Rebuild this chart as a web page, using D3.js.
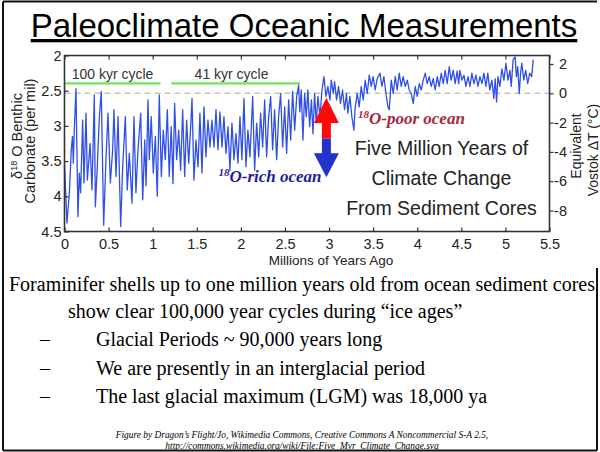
<!doctype html>
<html>
  <head>
    <meta charset="UTF-8">
    <title>Paleoclimate Oceanic Measurements</title>
    <script src="https://d3js.org/d3.v7.min.js"></script>
    <style>
      body { margin: 0; background: #fff; }
      .sans { font-family: "Liberation Sans", Arial, sans-serif; }
      .serif { font-family: "Liberation Serif", "Times New Roman", serif; }
      .tick text { font-family: "Liberation Sans", Arial, sans-serif; font-size: 14.5px; fill: #222; }
      .tick line { stroke: #333; stroke-width: 1.2; }
    </style>
  </head>
  <body>
    <svg id="slide" width="600" height="452"></svg>
    <script>
      // Benthic d18O record: age in Myr and value in per mil
      const ageMyr = [
        0.000, 0.028, 0.055, 0.077, 0.090, 0.100, 0.110, 0.130, 0.153, 0.168,
        0.183, 0.206, 0.221, 0.244, 0.259, 0.290, 0.312, 0.338, 0.350, 0.372,
        0.395, 0.417, 0.444, 0.470, 0.493, 0.520, 0.546, 0.561, 0.584, 0.607,
        0.637, 0.660, 0.690, 0.712, 0.735, 0.765, 0.788, 0.810, 0.833, 0.864,
        0.887, 0.910, 0.925, 0.947, 0.962, 0.984, 1.007, 1.030, 1.052, 1.075,
        1.098, 1.120, 1.143, 1.166, 1.188, 1.210, 1.230, 1.249, 1.272, 1.295,
        1.317, 1.340, 1.363, 1.385, 1.408, 1.431, 1.446, 1.468, 1.491, 1.514,
        1.536, 1.559, 1.582, 1.604, 1.627, 1.650, 1.672, 1.695, 1.718, 1.740,
        1.763, 1.786, 1.808, 1.831, 1.854, 1.876, 1.899, 1.922, 1.944, 1.967,
        1.990, 2.012, 2.035, 2.058, 2.080, 2.103, 2.134, 2.156, 2.179, 2.202,
        2.224, 2.247, 2.270, 2.292, 2.315, 2.338, 2.360, 2.383, 2.406, 2.428,
        2.451, 2.474, 2.497, 2.519, 2.542, 2.565, 2.587, 2.610, 2.633, 2.655,
        2.668, 2.685, 2.704, 2.723, 2.742, 2.760, 2.780, 2.800, 2.818, 2.836,
        2.855, 2.874, 2.897, 2.920, 2.942, 2.965, 2.987, 3.010, 3.025, 3.048,
        3.063, 3.085, 3.108, 3.130, 3.153, 3.176, 3.198, 3.213, 3.236, 3.259,
        3.282, 3.297, 3.320, 3.342, 3.365, 3.388, 3.410, 3.433, 3.456, 3.478,
        3.500, 3.523, 3.546, 3.577, 3.600, 3.622, 3.645, 3.668, 3.683, 3.705,
        3.728, 3.751, 3.773, 3.796, 3.819, 3.841, 3.864, 3.887, 3.909, 3.932,
        3.955, 3.977, 4.000, 4.023, 4.045, 4.068, 4.091, 4.113, 4.136, 4.159,
        4.181, 4.204, 4.227, 4.249, 4.272, 4.295, 4.317, 4.340, 4.363, 4.385,
        4.408, 4.430, 4.453, 4.470, 4.484, 4.507, 4.530, 4.552, 4.575, 4.598,
        4.620, 4.643, 4.666, 4.689, 4.711, 4.734, 4.756, 4.779, 4.800, 4.823,
        4.846, 4.869, 4.884, 4.900, 4.915, 4.937, 4.960, 4.983, 5.006, 5.029,
        5.051, 5.066, 5.087, 5.110, 5.125, 5.140, 5.157, 5.172, 5.186, 5.208,
        5.230, 5.253, 5.275, 5.298, 5.315
      ];
      const d18O = [
        3.55, 4.38, 3.95, 3.34, 3.15, 3.53, 3.10, 2.47, 4.29, 3.67,
        3.95, 2.92, 3.81, 2.82, 3.77, 3.25, 3.91, 2.56, 4.15, 3.58,
        2.87, 2.51, 4.41, 3.48, 2.82, 3.81, 3.34, 2.77, 3.72, 2.87,
        4.43, 3.58, 2.87, 3.91, 3.39, 4.10, 2.87, 3.95, 3.34, 2.82,
        4.05, 3.20, 3.85, 2.63, 3.48, 2.87, 3.67, 3.15, 4.00, 2.56,
        3.72, 3.06, 3.48, 2.77, 3.72, 3.01, 3.82, 2.68, 3.48, 3.06,
        3.63, 2.77, 3.72, 2.92, 3.53, 3.01, 2.61, 3.77, 3.20, 3.58,
        2.82, 3.67, 2.73, 3.44, 2.92, 3.30, 2.92, 3.30, 2.77, 3.34,
        2.80, 3.30, 2.87, 3.39, 3.01, 3.63, 2.96, 3.48, 3.11, 3.53,
        2.87, 3.48, 2.61, 3.58, 3.06, 3.44, 2.58, 3.63, 2.96, 3.44,
        2.82, 3.30, 2.63, 3.44, 2.87, 2.58, 3.34, 2.77, 3.48, 2.87,
        2.54, 3.30, 2.73, 3.39, 2.63, 3.20, 2.51, 3.06, 2.58, 2.42,
        2.80, 2.49, 3.20, 2.54, 2.87, 2.49, 3.01, 2.63, 3.11, 2.54,
        2.96, 2.58, 2.87, 2.49, 2.30, 2.58, 2.44, 2.63, 2.35, 2.54,
        2.37, 2.63, 2.44, 2.68, 2.49, 2.77, 2.54, 2.82, 2.58, 2.87,
        3.06, 2.73, 2.54, 2.73, 2.44, 2.63, 2.35, 2.54, 2.28, 2.44,
        2.30, 2.49, 2.33, 2.25, 2.44, 2.30, 2.54, 2.73, 2.77, 2.35,
        2.54, 2.30, 2.49, 2.25, 2.44, 2.30, 2.44, 2.35, 2.49, 2.54,
        2.68, 2.44, 2.58, 2.40, 2.49, 2.35, 2.25, 2.40, 2.30, 2.44,
        2.33, 2.49, 2.30, 2.44, 2.25, 2.40, 2.21, 2.40, 2.16, 2.35,
        2.21, 2.40, 2.22, 2.40, 2.21, 2.35, 2.28, 2.44, 2.30, 2.44,
        2.25, 2.40, 2.28, 2.44, 2.30, 2.40, 2.25, 2.44, 2.25, 2.49,
        2.35, 2.61, 2.33, 2.66, 2.30, 2.44, 2.19, 2.35, 2.11, 2.35,
        2.21, 2.44, 2.06, 2.02, 2.30, 2.16, 2.54, 2.25, 2.11, 2.35,
        2.21, 2.40, 2.25, 2.30, 2.06
      ];

      const xTicks = [0, 0.5, 1, 1.5, 2, 2.5, 3, 3.5, 4, 4.5, 5, 5.5];
      const leftTicks = [2, 2.5, 3, 3.5, 4, 4.5];
      const rightTicks = [2, 0, -2, -4, -6, -8];

      const cycleLabels = ["100 kyr cycle", "41 kyr cycle"];
      const cycleStart = [0, 1.21];
      const cycleEnd = [1.09, 2.67];

      const boxLines = ["Five Million Years of", "Climate Change", "From Sediment Cores"];
      const bullets = [
        "Glacial Periods ~ 90,000 years long",
        "We are presently in an interglacial period",
        "The last glacial maximum (LGM) was 18,000 ya"
      ];

      const svg = d3.select("#slide");

      // slide frame (right edge hidden behind the chart picture)
      const frame = svg.append("g").attr("stroke", "#111").attr("stroke-width", 2);
      frame.append("line").attr("x1", 3).attr("x2", 3).attr("y1", 1.5).attr("y2", 450.5);
      frame.append("line").attr("x1", 3).attr("x2", 597).attr("y1", 1.5).attr("y2", 1.5);
      frame.append("line").attr("x1", 597).attr("x2", 597).attr("y1", 268).attr("y2", 450.5);

      // title
      svg.append("text")
        .attr("class", "sans")
        .attr("x", 304).attr("y", 37)
        .attr("text-anchor", "middle")
        .attr("font-size", 33)
        .attr("fill", "#000")
        .style("text-decoration", "underline")
        .text("Paleoclimate Oceanic Measurements");

      // chart scales
      const x = d3.scaleLinear().domain([0, 5.5]).range([64.5, 549.5]);
      const y = d3.scaleLinear().domain([2, 4.5]).range([55.5, 231.5]);
      const yT = d3.scaleLinear().domain([2.58, -9.43]).range([55.5, 231.5]);

      const chart = svg.append("g");

      // zero temperature reference
      chart.append("line")
        .attr("x1", x(0)).attr("x2", x(5.5))
        .attr("y1", yT(0)).attr("y2", yT(0))
        .attr("stroke", "#c4c4c4").attr("stroke-width", 1.6)
        .attr("stroke-dasharray", "6,4");

      // cycle bars
      cycleLabels.forEach((lab, i) => {
        chart.append("line")
          .attr("x1", x(cycleStart[i])).attr("x2", x(cycleEnd[i]))
          .attr("y1", 83.3).attr("y2", 83.3)
          .attr("stroke", "#72e35a").attr("stroke-width", 2.2);
        chart.append("text")
          .attr("class", "sans")
          .attr("x", x((cycleStart[i] + cycleEnd[i]) / 2) - (i ? 4 : 0))
          .attr("y", 78.5)
          .attr("text-anchor", "middle")
          .attr("font-size", 14)
          .attr("fill", "#333")
          .text(lab);
      });

      // the record
      const line = d3.line()
        .x((d, i) => x(ageMyr[i]))
        .y(d => y(d));
      chart.append("path")
        .datum(d18O)
        .attr("d", line)
        .attr("fill", "none")
        .attr("stroke", "#2f4fe6")
        .attr("stroke-width", 1.3)
        .attr("stroke-linejoin", "round");

      // axes
      chart.append("g")
        .attr("transform", `translate(${x(0)},0)`)
        .call(d3.axisLeft(y).tickValues(leftTicks).tickSize(-4).tickPadding(3).tickFormat(d => String(d)))
        .call(g => g.select(".domain").remove());
      chart.append("g")
        .attr("transform", `translate(0,${y(4.5)})`)
        .call(d3.axisBottom(x).tickValues(xTicks).tickSize(-4).tickPadding(7.5).tickFormat(d => String(d)))
        .call(g => g.select(".domain").remove());
      chart.append("g")
        .attr("transform", `translate(0,${y(2)})`)
        .call(d3.axisTop(x).tickValues(xTicks).tickSize(-4).tickFormat(""))
        .call(g => g.select(".domain").remove());
      const right = chart.append("g")
        .attr("transform", `translate(${x(5.5)},0)`)
        .call(d3.axisRight(yT).tickValues(rightTicks).tickSize(4).tickFormat(d => String(d)))
        .call(g => g.select(".domain").remove());
      right.selectAll(".tick text").attr("text-anchor", "end").attr("x", 17.5);

      // plot frame
      chart.append("rect")
        .attr("x", x(0)).attr("y", y(2))
        .attr("width", x(5.5) - x(0)).attr("height", y(4.5) - y(2))
        .attr("fill", "none").attr("stroke", "#333").attr("stroke-width", 1.6);

      // axis titles
      const leftTitle = chart.append("text")
        .attr("class", "sans").attr("font-size", 14.5).attr("fill", "#222")
        .attr("text-anchor", "middle")
        .attr("transform", "translate(22,136) rotate(-90)");
      leftTitle.append("tspan").text("δ");
      leftTitle.append("tspan").attr("font-size", 9).attr("dy", -5).text("18");
      leftTitle.append("tspan").attr("dy", 5).text(" O Benthic");
      chart.append("text")
        .attr("class", "sans").attr("font-size", 14.5).attr("fill", "#222")
        .attr("text-anchor", "middle")
        .attr("transform", "translate(35,141) rotate(-90)")
        .text("Carbonate (per mil)");
      chart.append("text")
        .attr("class", "sans").attr("font-size", 14).attr("fill", "#222")
        .attr("text-anchor", "middle")
        .attr("transform", "translate(580.5,146) rotate(-90)")
        .text("Equivalent");
      chart.append("text")
        .attr("class", "sans").attr("font-size", 14).attr("fill", "#222")
        .attr("text-anchor", "middle")
        .attr("transform", "translate(597.5,150) rotate(-90)")
        .text("Vostok ΔT (°C)");
      chart.append("text")
        .attr("class", "sans").attr("font-size", 13.5).attr("fill", "#222")
        .attr("text-anchor", "middle")
        .attr("x", 331).attr("y", 265)
        .text("Millions of Years Ago");

      // up / down arrow
      const ax = x(2.97);
      const up = [[ax, y(2.6)], [ax + 12.5, y(2.96)], [ax + 4.5, y(2.96)], [ax + 4.5, y(3.18)],
                  [ax - 4.5, y(3.18)], [ax - 4.5, y(2.96)], [ax - 12.5, y(2.96)]];
      const down = [[ax - 4.5, y(3.18)], [ax + 4.5, y(3.18)], [ax + 4.5, y(3.39)], [ax + 12.5, y(3.39)],
                    [ax, y(3.73)], [ax - 12.5, y(3.39)], [ax - 4.5, y(3.39)]];
      chart.append("polygon").attr("points", up.join(" ")).attr("fill", "#ff0a0a");
      chart.append("polygon").attr("points", down.join(" ")).attr("fill", "#2233cc");

      // ocean labels
      const poor = chart.append("text")
        .attr("class", "serif").attr("font-size", 17).attr("font-weight", "bold")
        .attr("font-style", "italic").attr("fill", "#a3283c")
        .attr("x", 358).attr("y", 123.5);
      poor.append("tspan").attr("font-size", 11).attr("dy", -6).text("18");
      poor.append("tspan").attr("dy", 6).text("O-poor ocean");
      const rich = chart.append("text")
        .attr("class", "serif").attr("font-size", 17).attr("font-weight", "bold")
        .attr("font-style", "italic").attr("fill", "#1c1c9e")
        .attr("x", 218.5).attr("y", 182);
      rich.append("tspan").attr("font-size", 11).attr("dy", -6).text("18");
      rich.append("tspan").attr("dy", 6).text("O-rich ocean");

      chart.selectAll(".box")
        .data(boxLines)
        .join("text")
        .attr("class", "box sans")
        .attr("x", 441.5)
        .attr("y", (d, i) => 155 + i * 30)
        .attr("text-anchor", "middle")
        .attr("font-size", 19.5)
        .attr("fill", "#222")
        .text(d => d);

      // slide body text
      const body = svg.append("g").attr("class", "serif").attr("font-size", 20).attr("fill", "#000");
      body.append("text").attr("x", 9).attr("y", 291)
        .text("Foraminifer shells up to one million years old from ocean sediment cores");
      body.append("text").attr("x", 68).attr("y", 318)
        .text("show clear 100,000 year cycles during \u201cice ages\u201d");
      bullets.forEach((b, i) => {
        body.append("text").attr("x", 40).attr("y", 346 + i * 28.5).text("\u2013");
        body.append("text").attr("x", 96).attr("y", 346 + i * 28.5).text(b);
      });

      const credit = svg.append("g").attr("class", "serif").attr("font-size", 9.4)
        .attr("font-style", "italic").attr("fill", "#000").attr("text-anchor", "middle");
      credit.append("text").attr("x", 302).attr("y", 438)
        .text("Figure by Dragon\u2019s Flight/Jo, Wikimedia Commons, Creative Commons A Noncommercial S-A 2.5,");
      credit.append("text").attr("x", 302).attr("y", 448.5)
        .text("http://commons.wikimedia.org/wiki/File:Five_Myr_Climate_Change.svg");

      // bottom frame edge
      svg.append("line").attr("x1", 3).attr("x2", 597).attr("y1", 450.5).attr("y2", 450.5)
        .attr("stroke", "#111").attr("stroke-width", 2);
    </script>
  </body>
</html>
